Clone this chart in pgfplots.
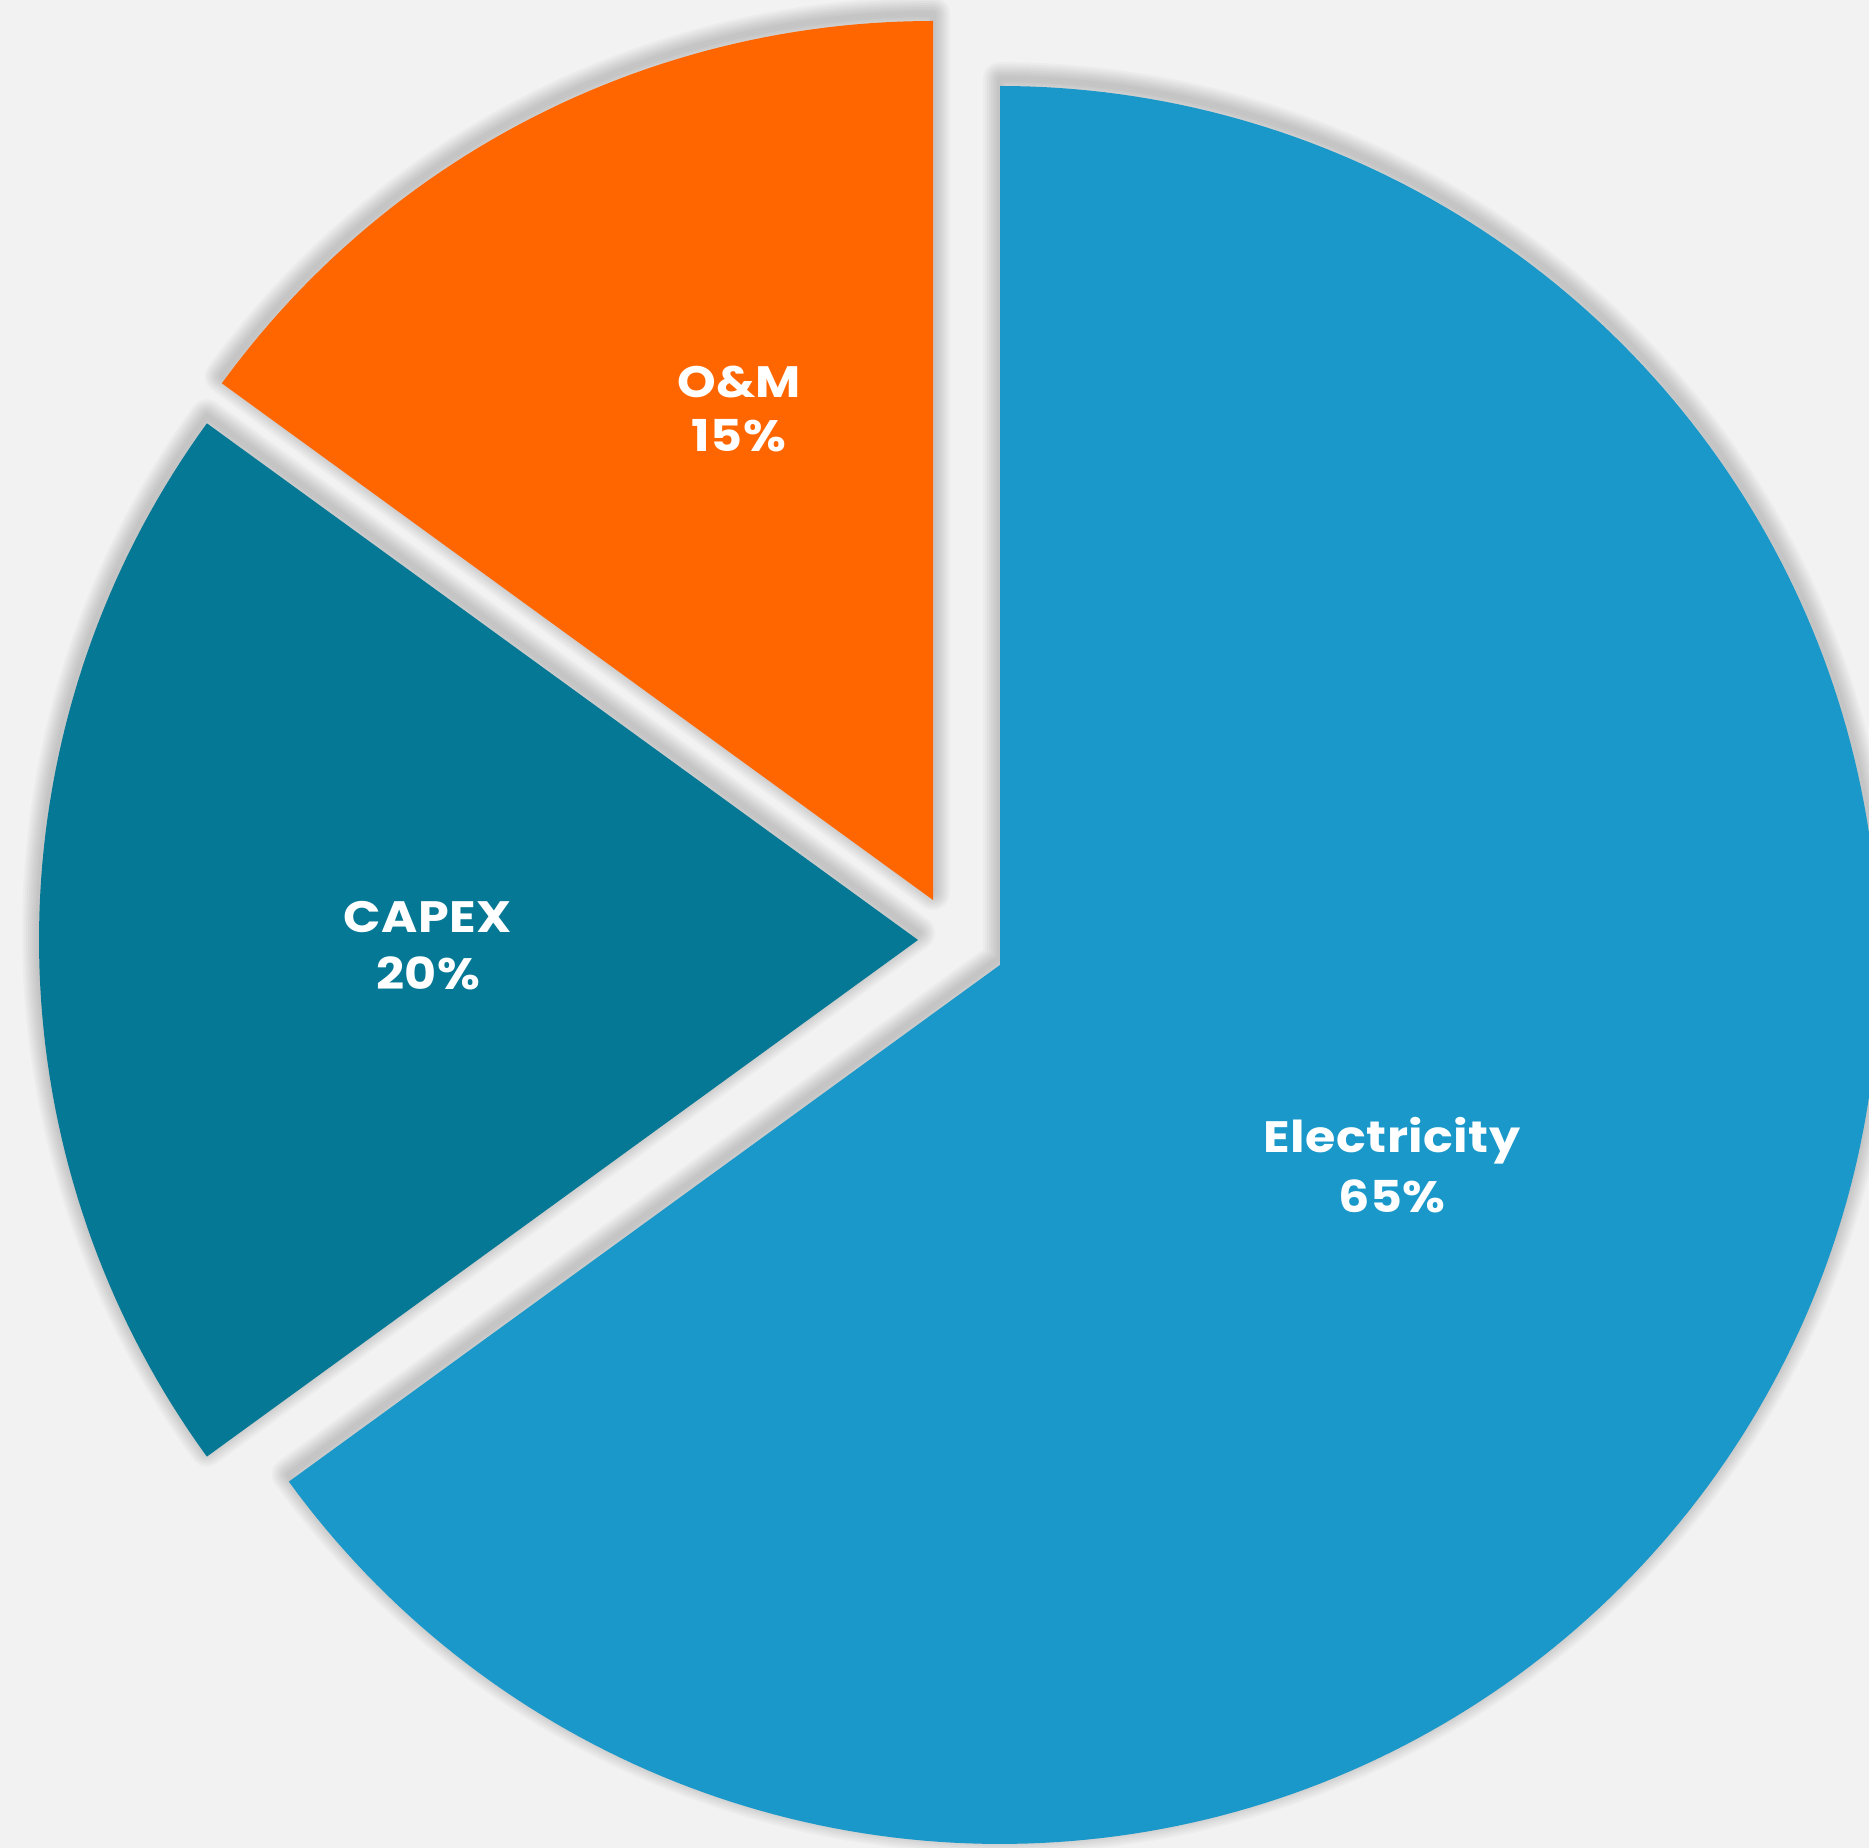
\documentclass[border=0pt]{standalone}
\usepackage{pgfplots}
\pgfplotsset{compat=1.18}
\usepackage{fontspec}
\newfontfamily\labfont[FakeStretch=1.12, LetterSpace=1]{Poppins}
\definecolor{bgcol}{HTML}{F2F2F2}
\definecolor{elec}{HTML}{1A98C9}
\definecolor{capex}{HTML}{047894}
\definecolor{om}{HTML}{FF6600}
% shares (percent)
\def\vE{65}\def\vC{20}\def\vO{15}
\pgfmathsetmacro{\aEs}{90-3.6*\vE}   % electricity: from -144 to 90
\pgfmathsetmacro{\aEe}{90}
\pgfmathsetmacro{\aCs}{90-3.6*\vE-3.6*\vC+360} % capex: 144 to 216
\pgfmathsetmacro{\aCe}{90-3.6*\vE+360}
\pgfmathsetmacro{\aOs}{90}            % o&m: 90 to 144
\pgfmathsetmacro{\aOe}{90+3.6*\vO}
\def\R{879}
% #1 cx, #2 cy, #3 start, #4 end, #5 line width
\newcommand\shadowring[5]{%
  \addplot[draw=black, draw opacity=0.024, fill=none, line width=#5, line join=round,
    domain=#3:#4, samples=120, variable=\t]
    ({#1+\R*cos(\t)}, {#2+7+\R*sin(\t)}) -- (axis cs:#1,#2+7) -- cycle;}
\newcommand\shadowslice[4]{%
  \shadowring{#1}{#2}{#3}{#4}{0.34cm}%
  \shadowring{#1}{#2}{#3}{#4}{0.30cm}%
  \shadowring{#1}{#2}{#3}{#4}{0.26cm}%
  \shadowring{#1}{#2}{#3}{#4}{0.22cm}%
  \shadowring{#1}{#2}{#3}{#4}{0.18cm}%
  \shadowring{#1}{#2}{#3}{#4}{0.14cm}%
  \shadowring{#1}{#2}{#3}{#4}{0.10cm}%
  \shadowring{#1}{#2}{#3}{#4}{0.06cm}%
}
\newcommand\slice[5]{%
  \addplot[fill=#5, draw=none, domain=#3:#4, samples=240, variable=\t]
    ({#1+\R*cos(\t)}, {#2+\R*sin(\t)}) -- (axis cs:#1,#2) -- cycle;}
\begin{document}
\begin{tikzpicture}
\begin{axis}[
  scale only axis, width=18.69cm, height=18.48cm,
  xmin=0, xmax=1869, ymin=0, ymax=1848,
  axis line style={draw=none}, ticks=none,
  axis background/.style={fill=bgcol},
  clip=true,
]
\shadowslice{1000}{883}{\aEs}{\aEe}
\shadowslice{918}{908}{\aCs}{\aCe}
\shadowslice{933}{948}{\aOs}{\aOe}
\slice{1000}{883}{\aEs}{\aEe}{elec}
\slice{918}{908}{\aCs}{\aCe}{capex}
\slice{933}{948}{\aOs}{\aOe}{om}
\begin{scope}[every node/.style={text=white, font=\labfont\bfseries\fontsize{12.5}{15}\selectfont, anchor=base}]
\node at (axis cs:1392,695) {Electricity};
\node at (axis cs:1392,635) {\vE\%};
\node at (axis cs:428,915) {CAPEX};
\node at (axis cs:428,858) {\vC\%};
\node at (axis cs:739,1450) {O\&M};
\node at (axis cs:739,1396) {\vO\%};
\end{scope}
\end{axis}
\end{tikzpicture}
\end{document}
